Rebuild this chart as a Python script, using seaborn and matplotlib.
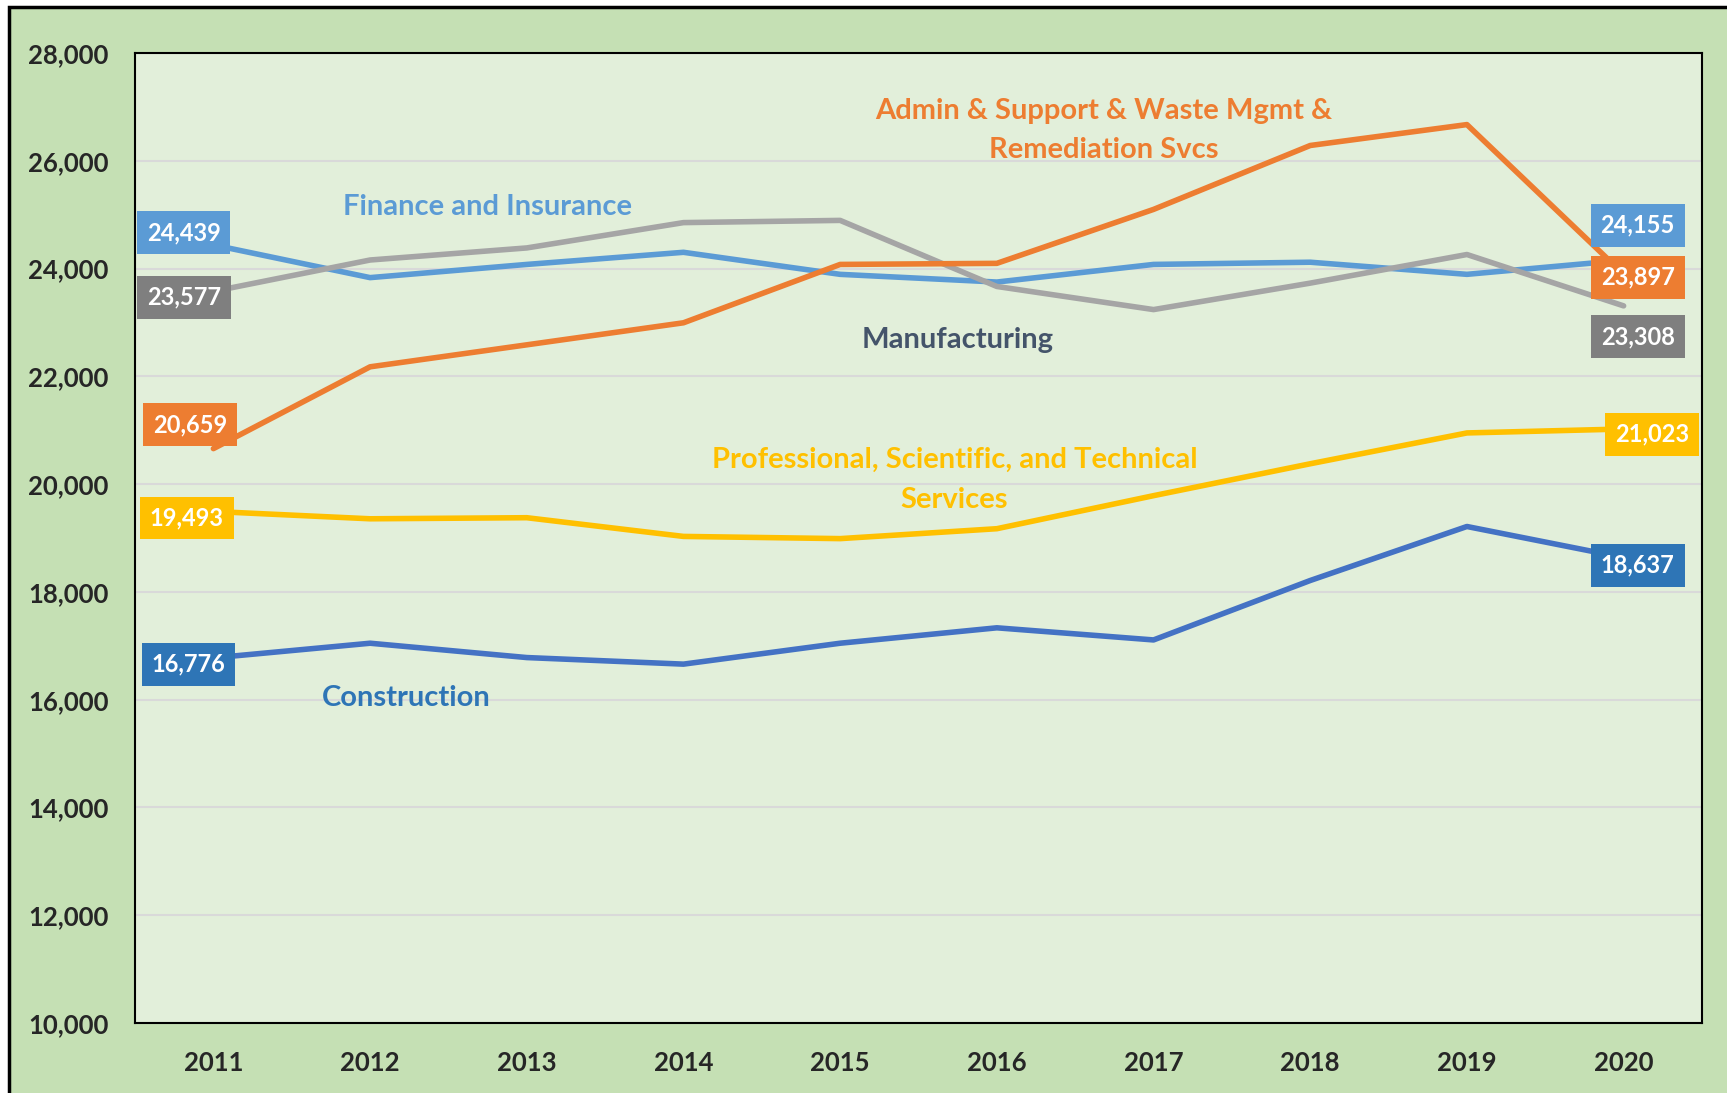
import matplotlib
matplotlib.use("Agg")
import matplotlib.pyplot as plt
import matplotlib.patches as mpatches
import matplotlib.ticker as mticker
import numpy as np
import pandas as pd
import seaborn as sns

years = ["2011", "2012", "2013", "2014", "2015", "2016", "2017", "2018", "2019", "2020"]

finance = [24439, 23832, 24077, 24302, 23893, 23750, 24077, 24118, 23893, 24155]
manufacturing = [23577, 24159, 24383, 24853, 24894, 23668, 23239, 23730, 24261, 23308]
admin = [20659, 22177, 22585, 22994, 24077, 24097, 25098, 26284, 26672, 23897]
professional = [19493, 19357, 19377, 19030, 18989, 19173, 19786, 20378, 20950, 21023]
construction = [16776, 17048, 16782, 16660, 17048, 17334, 17109, 18212, 19214, 18637]

series = {
    "Finance and Insurance": finance,
    "Manufacturing": manufacturing,
    "Admin & Support & Waste Mgmt & Remediation Svcs": admin,
    "Professional, Scientific, and Technical Services": professional,
    "Construction": construction,
}
line_colors = {
    "Finance and Insurance": "#5B9BD5",
    "Manufacturing": "#A5A5A5",
    "Admin & Support & Waste Mgmt & Remediation Svcs": "#ED7D31",
    "Professional, Scientific, and Technical Services": "#FFC000",
    "Construction": "#4472C4",
}
box_colors = {
    "Finance and Insurance": "#5B9BD5",
    "Manufacturing": "#7F7F7F",
    "Admin & Support & Waste Mgmt & Remediation Svcs": "#ED7D31",
    "Professional, Scientific, and Technical Services": "#FFC000",
    "Construction": "#2E75B6",
}

rows = []
for name, vals in series.items():
    for i, v in enumerate(vals):
        rows.append({"Year": i, "Series": name, "Value": v})
df = pd.DataFrame(rows)

sns.set_theme(style="white")
plt.rcParams["font.family"] = ["Lato", "DejaVu Sans"]
plt.rcParams["font.weight"] = "bold"

fig = plt.figure(figsize=(17.27, 10.93), dpi=100, facecolor="white")
bg = mpatches.Rectangle((0.005, -0.05), 1.0, 1.0436, transform=fig.transFigure,
                        facecolor="#C5E0B4", edgecolor="black", lw=2.5, zorder=-10)
fig.patches.append(bg)

ax = fig.add_axes([0.0782, 0.064, 0.9073, 0.8875])
ax.set_facecolor("#E2EFDA")

sns.lineplot(data=df, x="Year", y="Value", hue="Series", palette=line_colors,
             linewidth=4, legend=False, ax=ax, zorder=3)

ax.set_xlim(-0.5, 9.5)
ax.set_ylim(10000, 28000)
ax.set_yticks(np.arange(10000, 28001, 2000))
ax.yaxis.set_major_formatter(mticker.StrMethodFormatter("{x:,.0f}"))
ax.set_xticks(range(len(years)))
ax.set_xticklabels(years)
ax.tick_params(axis="both", labelsize=18.5, length=0)
ax.tick_params(axis="x", pad=20)
ax.tick_params(axis="y", pad=19)
for lab in ax.get_xticklabels() + ax.get_yticklabels():
    lab.set_fontweight("bold")
ax.set_xlabel("")
ax.set_ylabel("")
ax.grid(axis="y", color="#D9D9D9", lw=1.5)
ax.set_axisbelow(True)
for sp in ax.spines.values():
    sp.set_color("black")
    sp.set_linewidth(1.5)

# data labels: (series, index, dx, dy in data units)
label_pos = [
    ("Finance and Insurance", 0, -0.19, 230),
    ("Manufacturing", 0, -0.19, -110),
    ("Admin & Support & Waste Mgmt & Remediation Svcs", 0, -0.15, 440),
    ("Professional, Scientific, and Technical Services", 0, -0.17, -120),
    ("Construction", 0, -0.16, -120),
    ("Finance and Insurance", 9, 0.09, 650),
    ("Admin & Support & Waste Mgmt & Remediation Svcs", 9, 0.09, -60),
    ("Manufacturing", 9, 0.09, -570),
    ("Professional, Scientific, and Technical Services", 9, 0.18, -100),
    ("Construction", 9, 0.09, -140),
]
for name, i, dx, dy in label_pos:
    v = series[name][i]
    ax.text(i + dx, v + dy, f"{v:,}", ha="center", va="center", fontsize=17,
            fontweight="bold", color="white", zorder=5,
            bbox=dict(boxstyle="square,pad=0.42", fc=box_colors[name], ec="none"))

ax.text(1.75, 25150, "Finance and Insurance", ha="center", va="center",
        fontsize=21, fontweight="bold", color="#5B9BD5")
ax.text(5.68, 26560, "Admin & Support & Waste Mgmt &\nRemediation Svcs", ha="center",
        va="center", fontsize=21, fontweight="bold", color="#ED7D31", linespacing=1.65)
ax.text(4.75, 22670, "Manufacturing", ha="center", va="center",
        fontsize=21, fontweight="bold", color="#44546A")
ax.text(4.73, 20080, "Professional, Scientific, and Technical\nServices", ha="center",
        va="center", fontsize=21, fontweight="bold", color="#FFC000", linespacing=1.65)
ax.text(1.23, 16040, "Construction", ha="center", va="center",
        fontsize=21, fontweight="bold", color="#2E75B6")

fig.savefig("out.png", dpi=100, facecolor=fig.get_facecolor())
